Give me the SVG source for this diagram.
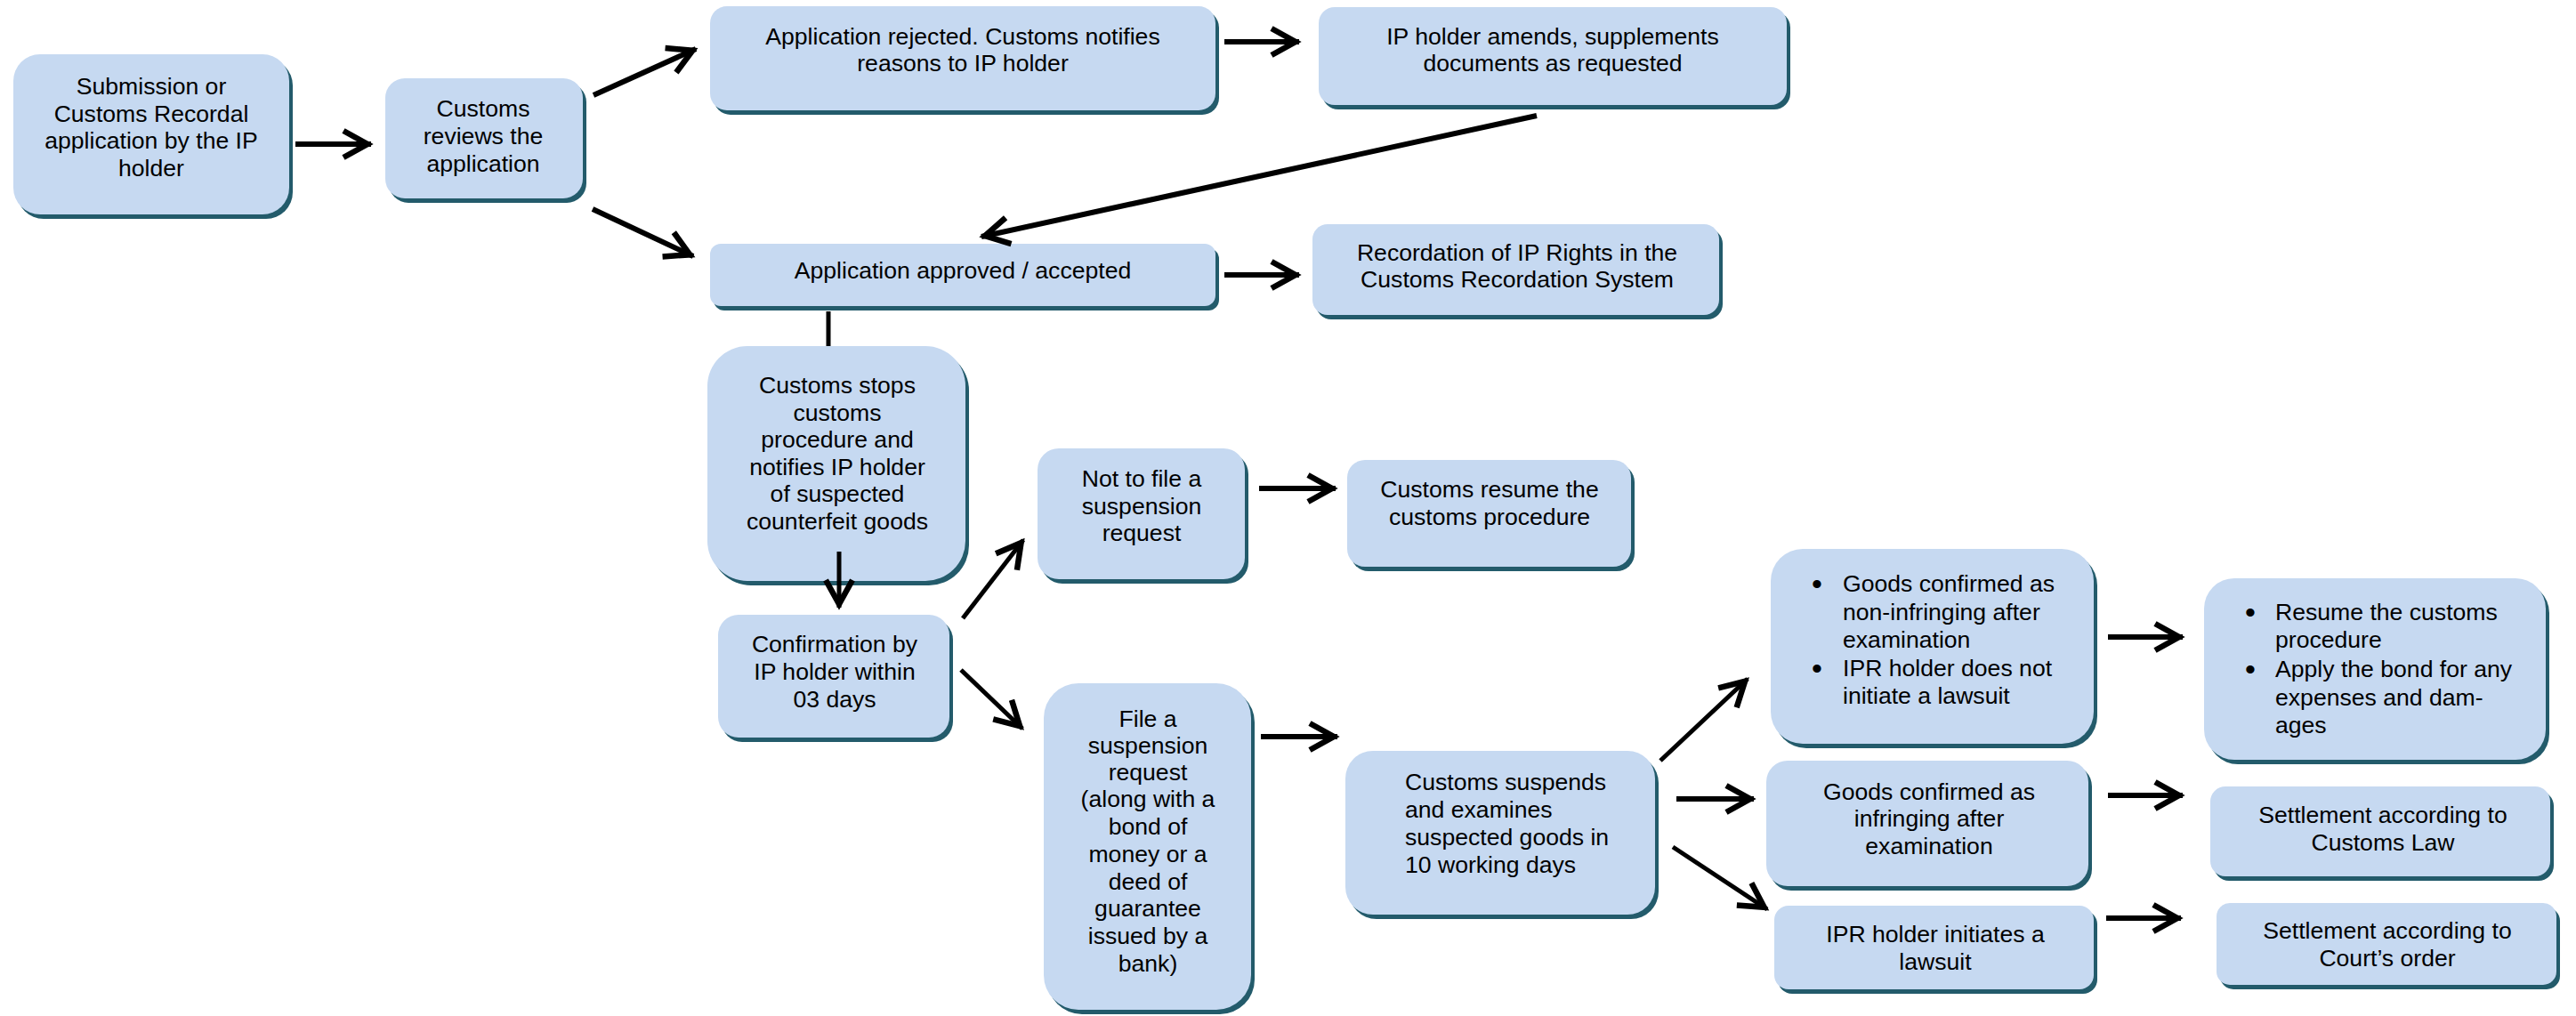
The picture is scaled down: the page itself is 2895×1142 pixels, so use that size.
<svg xmlns="http://www.w3.org/2000/svg" width="2895" height="1142" viewBox="0 0 2895 1142">
<defs>
<style>
.box{fill:#c6d9f1}
.sh{fill:#235b6b}
.t{font-family:"Liberation Sans",Arial,sans-serif;font-size:26.6px;fill:#000;text-anchor:middle}
.l{text-anchor:start}
.b{font-size:34px}
.c{stroke:#000;stroke-width:6;fill:none}
.c2{stroke:#000;stroke-width:5;fill:none}
</style>
<marker id="ah" markerUnits="userSpaceOnUse" viewBox="-40 -25 50 50" markerWidth="50" markerHeight="50" refX="4" refY="0" orient="auto">
<path d="M-27,-15 L0,0 L-27,15" fill="none" stroke="#000" stroke-width="6.5"/>
</marker>
</defs>
<rect width="2895" height="1142" fill="#fff"/>

<g id="n1"><rect class="sh" x="19" y="66" width="310" height="180" rx="30"/><rect class="box" x="15" y="61" width="310" height="180" rx="30"/>
<text class="t" x="170" y="106">Submission or</text><text class="t" x="170" y="137">Customs Recordal</text><text class="t" x="170" y="167">application by the IP</text><text class="t" x="170" y="198">holder</text></g>

<g id="n2"><rect class="sh" x="437" y="93" width="222" height="135" rx="22"/><rect class="box" x="433" y="88" width="222" height="135" rx="22"/>
<text class="t" x="543" y="131">Customs</text><text class="t" x="543" y="162">reviews the</text><text class="t" x="543" y="193">application</text></g>

<g id="n3"><rect class="sh" x="802" y="12" width="568" height="117" rx="19"/><rect class="box" x="798" y="7" width="568" height="117" rx="19"/>
<text class="t" x="1082" y="50">Application rejected. Customs notifies</text><text class="t" x="1082" y="80">reasons to IP holder</text></g>

<g id="n4"><rect class="sh" x="1486" y="13" width="526" height="110" rx="18"/><rect class="box" x="1482" y="8" width="526" height="110" rx="18"/>
<text class="t" x="1745" y="50">IP holder amends, supplements</text><text class="t" x="1745" y="80">documents as requested</text></g>

<g id="n5"><rect class="sh" x="802" y="279" width="568" height="70" rx="12"/><rect class="box" x="798" y="274" width="568" height="70" rx="12"/>
<text class="t" x="1082" y="313">Application approved / accepted</text></g>

<g id="n6"><rect class="sh" x="1479" y="257" width="457" height="102" rx="17"/><rect class="box" x="1475" y="252" width="457" height="102" rx="17"/>
<text class="t" x="1705" y="293">Recordation of IP Rights in the</text><text class="t" x="1705" y="323">Customs Recordation System</text></g>

<g id="n7"><rect class="sh" x="799" y="394" width="290" height="264" rx="45"/><rect class="box" x="795" y="389" width="290" height="264" rx="45"/>
<text class="t" x="941" y="442">Customs stops</text><text class="t" x="941" y="473">customs</text><text class="t" x="941" y="503">procedure and</text><text class="t" x="941" y="534">notifies IP holder</text><text class="t" x="941" y="564">of suspected</text><text class="t" x="941" y="595">counterfeit goods</text></g>

<g id="n8"><rect class="sh" x="811" y="696" width="260" height="138" rx="23"/><rect class="box" x="807" y="691" width="260" height="138" rx="23"/>
<text class="t" x="938" y="733">Confirmation by</text><text class="t" x="938" y="764">IP holder within</text><text class="t" x="938" y="795">03 days</text></g>

<g id="n9"><rect class="sh" x="1170" y="509" width="233" height="147" rx="24"/><rect class="box" x="1166" y="504" width="233" height="147" rx="24"/>
<text class="t" x="1283" y="547">Not to file a</text><text class="t" x="1283" y="578">suspension</text><text class="t" x="1283" y="608">request</text></g>

<g id="n10"><rect class="sh" x="1518" y="522" width="319" height="120" rx="20"/><rect class="box" x="1514" y="517" width="319" height="120" rx="20"/>
<text class="t" x="1674" y="559">Customs resume the</text><text class="t" x="1674" y="590">customs procedure</text></g>

<g id="n11"><rect class="sh" x="1177" y="773" width="233" height="367" rx="39"/><rect class="box" x="1173" y="768" width="233" height="367" rx="39"/>
<text class="t" x="1290" y="817">File a</text><text class="t" x="1290" y="847">suspension</text><text class="t" x="1290" y="877">request</text><text class="t" x="1290" y="907">(along with a</text><text class="t" x="1290" y="938">bond of</text><text class="t" x="1290" y="969">money or a</text><text class="t" x="1290" y="1000">deed of</text><text class="t" x="1290" y="1030">guarantee</text><text class="t" x="1290" y="1061">issued by a</text><text class="t" x="1290" y="1092">bank)</text></g>

<g id="n12"><rect class="sh" x="1516" y="849" width="348" height="184" rx="31"/><rect class="box" x="1512" y="844" width="348" height="184" rx="31"/>
<text class="t l" x="1579" y="888">Customs suspends</text><text class="t l" x="1579" y="919">and examines</text><text class="t l" x="1579" y="950">suspected goods in</text><text class="t l" x="1579" y="981">10 working days</text></g>

<g id="n13"><rect class="sh" x="1994" y="622" width="363" height="219" rx="36"/><rect class="box" x="1990" y="617" width="363" height="219" rx="36"/>
<text class="t b" x="2042" y="668">•</text><text class="t l" x="2071" y="665">Goods confirmed as</text><text class="t l" x="2071" y="697">non-infringing after</text><text class="t l" x="2071" y="728">examination</text>
<text class="t b" x="2042" y="763">•</text><text class="t l" x="2071" y="760">IPR holder does not</text><text class="t l" x="2071" y="791">initiate a lawsuit</text></g>

<g id="n14"><rect class="sh" x="2481" y="655" width="384" height="204" rx="34"/><rect class="box" x="2477" y="650" width="384" height="204" rx="34"/>
<text class="t b" x="2529" y="700">•</text><text class="t l" x="2557" y="697">Resume the customs</text><text class="t l" x="2557" y="728">procedure</text>
<text class="t b" x="2529" y="764">•</text><text class="t l" x="2557" y="761">Apply the bond for any</text><text class="t l" x="2557" y="793">expenses and dam-</text><text class="t l" x="2557" y="824">ages</text></g>

<g id="n15"><rect class="sh" x="1989" y="860" width="362" height="141" rx="24"/><rect class="box" x="1985" y="855" width="362" height="141" rx="24"/>
<text class="t" x="2168" y="899">Goods confirmed as</text><text class="t" x="2168" y="929">infringing after</text><text class="t" x="2168" y="960">examination</text></g>

<g id="n16"><rect class="sh" x="2488" y="889" width="382" height="101" rx="17"/><rect class="box" x="2484" y="884" width="382" height="101" rx="17"/>
<text class="t" x="2678" y="925">Settlement according to</text><text class="t" x="2678" y="956">Customs Law</text></g>

<g id="n17"><rect class="sh" x="1998" y="1023" width="359" height="94" rx="16"/><rect class="box" x="1994" y="1018" width="359" height="94" rx="16"/>
<text class="t" x="2175" y="1059">IPR holder initiates a</text><text class="t" x="2175" y="1090">lawsuit</text></g>

<g id="n18"><rect class="sh" x="2495" y="1020" width="382" height="92" rx="15"/><rect class="box" x="2491" y="1015" width="382" height="92" rx="15"/>
<text class="t" x="2683" y="1055">Settlement according to</text><text class="t" x="2683" y="1086">Court’s order</text></g>

<g id="connectors">
<line class="c" x1="332" y1="162" x2="417" y2="162" marker-end="url(#ah)"/>
<line class="c" x1="667" y1="107" x2="782" y2="55" marker-end="url(#ah)"/>
<line class="c" x1="666" y1="235" x2="779" y2="288" marker-end="url(#ah)"/>
<line class="c" x1="1376" y1="47" x2="1460" y2="47" marker-end="url(#ah)"/>
<line class="c" x1="1727" y1="130" x2="1103" y2="266" marker-end="url(#ah)"/>
<line class="c" x1="1376" y1="309" x2="1460" y2="309" marker-end="url(#ah)"/>
<line class="c2" x1="931" y1="350" x2="931" y2="389"/>
<line class="c2" x1="943" y1="620" x2="943" y2="683" marker-end="url(#ah)"/>
<line class="c2" x1="1082" y1="695" x2="1150" y2="607" marker-end="url(#ah)"/>
<line class="c" x1="1415" y1="549" x2="1501" y2="549" marker-end="url(#ah)"/>
<line class="c2" x1="1080" y1="753" x2="1149" y2="819" marker-end="url(#ah)"/>
<line class="c" x1="1417" y1="828" x2="1503" y2="828" marker-end="url(#ah)"/>
<line class="c2" x1="1866" y1="855" x2="1964" y2="763" marker-end="url(#ah)"/>
<line class="c" x1="1884" y1="898" x2="1971" y2="898" marker-end="url(#ah)"/>
<line class="c2" x1="1880" y1="952" x2="1986" y2="1022" marker-end="url(#ah)"/>
<line class="c" x1="2369" y1="716" x2="2453" y2="716" marker-end="url(#ah)"/>
<line class="c" x1="2369" y1="894" x2="2453" y2="894" marker-end="url(#ah)"/>
<line class="c" x1="2367" y1="1032" x2="2451" y2="1032" marker-end="url(#ah)"/>
</g>
</svg>
